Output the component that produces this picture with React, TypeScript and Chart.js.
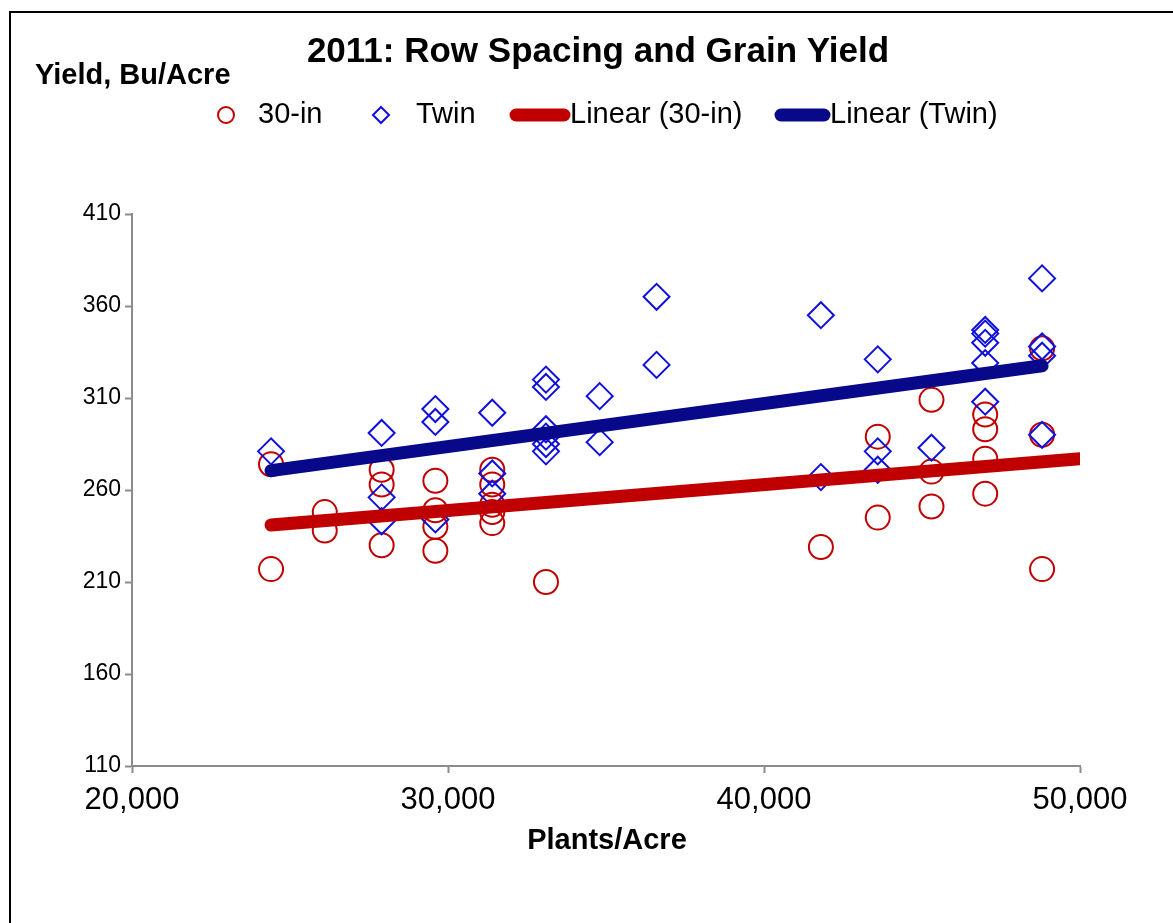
import React, { useEffect, useRef } from "react";
import { Chart, registerables } from "chart.js";

Chart.register(...registerables);

// ---- Data ----
const plantsThirtyIn = [
  24400, 24400,
  26100, 26100,
  27900, 27900, 27900,
  29600, 29600, 29600, 29600,
  31400, 31400, 31400, 31400, 31400,
  33100,
  41800,
  43600, 43600,
  45300, 45300, 45300,
  47000, 47000, 47000, 47000,
  48800, 48800, 48800,
];
const yieldThirtyIn = [
  274, 217,
  248, 238,
  271, 263, 230,
  265, 249, 240, 227,
  271, 263, 252, 248, 242,
  210,
  229,
  289, 245,
  309, 270, 251,
  301, 293, 277, 258,
  337, 290, 217,
];

const plantsTwin = [
  24400,
  27900, 27900, 27900,
  29600, 29600, 29600,
  31400, 31400, 31400,
  33100, 33100, 33100, 33100, 33100, 33100,
  34800, 34800,
  36600, 36600,
  41800, 41800,
  43600, 43600, 43600,
  45300,
  47000, 47000, 47000, 47000, 47000,
  48800, 48800, 48800, 48800,
];
const yieldTwin = [
  281,
  291, 256, 243,
  304, 297, 244,
  302, 269, 258,
  320, 316, 293, 289, 285, 281,
  311, 286,
  365, 328,
  355, 267,
  331, 281, 271,
  283,
  347, 345, 340, 329, 308,
  375, 338, 333, 290,
];

// Trendline endpoints as drawn in the reference
const trendThirtyInX = [24400, 50000];
const trendThirtyInY = [241, 277];
const trendTwinX = [24400, 48800];
const trendTwinY = [270.5, 327.5];

const yTickValues = [110, 160, 210, 260, 310, 360, 410];
const xTickValues = [20000, 30000, 40000, 50000];
const xTickLabels = ["20,000", "30,000", "40,000", "50,000"];

const TITLE = "2011: Row Spacing and Grain Yield";
const Y_LABEL = "Yield, Bu/Acre";
const X_LABEL = "Plants/Acre";
const LEGEND_LABELS = ["30-in", "Twin", "Linear (30-in)", "Linear (Twin)"];

const RED = "#C00000";
const BLUE = "#1010DD";
const NAVY = "#08088A";
const AXIS = "#8C8C8C";
const FONT = '"Liberation Sans", Arial, sans-serif';

const zip = (xs: number[], ys: number[]) => xs.map((x, i) => ({ x, y: ys[i] }));

const overlayPlugin = {
  id: "overlay",
  afterDraw(chart: any) {
    const ctx: CanvasRenderingContext2D = chart.ctx;
    ctx.save();
    ctx.fillStyle = "#000";
    ctx.textBaseline = "middle";

    ctx.font = `bold 35px ${FONT}`;
    ctx.textAlign = "center";
    ctx.fillText(TITLE, 598, 52);

    ctx.font = `bold 29px ${FONT}`;
    ctx.textAlign = "left";
    ctx.fillText(Y_LABEL, 35, 76);

    ctx.font = `bold 29px ${FONT}`;
    ctx.textAlign = "center";
    ctx.fillText(X_LABEL, 607, 841);

    // legend
    const ly = 115;
    ctx.font = `29px ${FONT}`;
    ctx.textAlign = "left";
    // circle marker
    ctx.strokeStyle = RED;
    ctx.lineWidth = 2;
    ctx.beginPath();
    ctx.arc(226, ly, 8, 0, Math.PI * 2);
    ctx.stroke();
    ctx.fillText(LEGEND_LABELS[0], 258, ly);
    // diamond marker
    ctx.strokeStyle = BLUE;
    ctx.beginPath();
    ctx.moveTo(381, ly - 8);
    ctx.lineTo(389, ly);
    ctx.lineTo(381, ly + 8);
    ctx.lineTo(373, ly);
    ctx.closePath();
    ctx.stroke();
    ctx.fillText(LEGEND_LABELS[1], 416, ly);
    // red line
    ctx.lineCap = "round";
    ctx.lineWidth = 13;
    ctx.strokeStyle = RED;
    ctx.beginPath();
    ctx.moveTo(516, ly);
    ctx.lineTo(564, ly);
    ctx.stroke();
    ctx.fillText(LEGEND_LABELS[2], 570, ly);
    // navy line
    ctx.strokeStyle = NAVY;
    ctx.beginPath();
    ctx.moveTo(781, ly);
    ctx.lineTo(824, ly);
    ctx.stroke();
    ctx.fillText(LEGEND_LABELS[3], 830, ly);

    ctx.restore();
  },
};

export default function App() {
  const canvasRef = useRef<HTMLCanvasElement | null>(null);

  useEffect(() => {
    const canvas = canvasRef.current;
    if (!canvas) return;
    const chart = new Chart(canvas, {
      type: "scatter",
      data: {
        datasets: [
          {
            label: LEGEND_LABELS[2],
            data: zip(trendThirtyInX, trendThirtyInY),
            showLine: true,
            borderColor: RED,
            backgroundColor: RED,
            borderWidth: 13,
            borderCapStyle: "round",
            pointRadius: 0,
            order: 0,
          },
          {
            label: LEGEND_LABELS[3],
            data: zip(trendTwinX, trendTwinY),
            showLine: true,
            borderColor: NAVY,
            backgroundColor: NAVY,
            borderWidth: 13,
            borderCapStyle: "round",
            pointRadius: 0,
            order: 0,
          },
          {
            label: LEGEND_LABELS[1],
            data: zip(plantsTwin, yieldTwin),
            pointStyle: "rectRot",
            pointRadius: 13,
            pointBorderWidth: 2,
            pointBorderColor: BLUE,
            pointBackgroundColor: "rgba(0,0,0,0)",
            order: 1,
          },
          {
            label: LEGEND_LABELS[0],
            data: zip(plantsThirtyIn, yieldThirtyIn),
            pointStyle: "circle",
            pointRadius: 12,
            pointBorderWidth: 2,
            pointBorderColor: RED,
            pointBackgroundColor: "rgba(0,0,0,0)",
            order: 2,
          },
        ],
      } as any,
      options: {
        responsive: false,
        animation: false,
        devicePixelRatio: 1,
        layout: { padding: { left: 0, top: 214, right: 93, bottom: 0 } },
        plugins: {
          legend: { display: false },
          title: { display: false },
          tooltip: { enabled: false },
        },
        scales: {
          x: {
            type: "linear",
            min: xTickValues[0],
            max: xTickValues[xTickValues.length - 1],
            afterFit: (s: any) => {
              s.height = 157;
            },
            afterBuildTicks: (s: any) => {
              s.ticks = xTickValues.map((v) => ({ value: v }));
            },
            ticks: {
              padding: 9,
              color: "#000",
              font: { family: FONT, size: 31 },
              maxRotation: 0,
              callback: (v: any) => {
                const i = xTickValues.indexOf(Number(v));
                return i >= 0 ? xTickLabels[i] : "";
              },
            },
            grid: {
              drawOnChartArea: false,
              drawTicks: true,
              tickLength: 7,
              tickColor: AXIS,
              tickWidth: 2,
            },
            border: { display: true, color: AXIS, width: 2 },
          },
          y: {
            type: "linear",
            min: yTickValues[0],
            max: yTickValues[yTickValues.length - 1],
            afterFit: (s: any) => {
              s.width = 132;
            },
            afterBuildTicks: (s: any) => {
              s.ticks = yTickValues.map((v) => ({ value: v }));
            },
            ticks: {
              padding: 4,
              color: "#000",
              font: { family: FONT, size: 23 },
              callback: (v: any) => String(v),
            },
            grid: {
              drawOnChartArea: false,
              drawTicks: true,
              tickLength: 7,
              tickColor: AXIS,
              tickWidth: 2,
            },
            border: { display: true, color: AXIS, width: 2 },
          },
        },
      } as any,
      plugins: [overlayPlugin],
    });
    return () => chart.destroy();
  }, []);

  return (
    <div
      style={{
        position: "fixed",
        left: 0,
        top: 0,
        width: 1173,
        height: 923,
        overflow: "hidden",
        background: "#fff",
      }}
    >
      <div
        style={{
          position: "absolute",
          left: 9,
          top: 11,
          width: 1220,
          height: 960,
          border: "2px solid #000",
          boxSizing: "border-box",
        }}
      />
      <canvas
        ref={canvasRef}
        width={1173}
        height={923}
        style={{ position: "absolute", left: 0, top: 0, width: 1173, height: 923 }}
      />
    </div>
  );
}
